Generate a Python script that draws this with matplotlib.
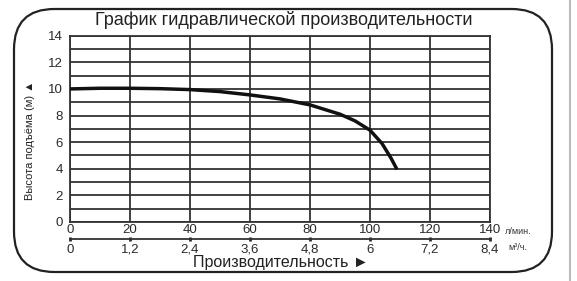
import numpy as np
import matplotlib
matplotlib.use("Agg")
from matplotlib import pyplot as plt
from matplotlib.patches import FancyBboxPatch
from matplotlib.ticker import FixedLocator, FuncFormatter

# производительность, л/мин и напор, м
flow = [0, 10, 20, 30, 40, 50, 60, 70, 80, 90, 95, 100, 104, 107, 109]
head = [10.0, 10.05, 10.05, 10.02, 9.95, 9.8, 9.55, 9.25, 8.8, 8.1, 7.6, 6.9, 5.9, 4.8, 3.95]

x_ticks = [0, 20, 40, 60, 80, 100, 120, 140]
m3h_labels = ["0", "1,2", "2,4", "3,6", "4,8", "6", "7,2", "8,4"]
y_ticks = [0, 2, 4, 6, 8, 10, 12, 14]

title = "График гидравлической производительности"
xlabel = "Производительность ►"
ylabel = "Высота подъёма (м) ▲"

plt.rcParams['font.family'] = ['DejaVu Sans']
fam = ['Liberation Sans', 'DejaVu Sans']

fig = plt.figure(figsize=(5.77, 2.81), dpi=100)
fig.patch.set_facecolor("white")

# frame with rounded corners
W, H = 577.0, 281.0
frame = FancyBboxPatch((14/W, 9/H), (552-14)/W, (272-9)/H,
                       boxstyle="round,pad=0,rounding_size=0.07",
                       transform=fig.transFigure, fill=False,
                       edgecolor="#222222", linewidth=1.6,
                       mutation_aspect=W/H)
fig.patches.append(frame)
fig.add_artist(plt.Line2D([570/W, 570/W], [0, 1], transform=fig.transFigure,
                          color="#bbbbbb", lw=1.5))

ax = fig.add_axes([70/W, 1 - 222/H, 420/W, (222 - 35.7)/H])
ax.set_xlim(0, 140)
ax.set_ylim(0, 14)

for v in range(0, 15):
    ax.axhline(v, color="#333333", lw=1.3, zorder=1)
for v in x_ticks:
    ax.axvline(v, color="#333333", lw=1.3, zorder=1)
for s in ax.spines.values():
    s.set_color("#333333")
    s.set_linewidth(1.3)

ax.plot(flow, head, color="#111111", lw=2.5, zorder=3, solid_capstyle="butt")

ax.set_yticks(y_ticks)
ax.set_xticks(x_ticks)
ax.tick_params(length=0, labelsize=9.5, colors="#2a2a2a", pad=5)
for t in ax.get_xticklabels() + ax.get_yticklabels():
    t.set_family(fam)
ax.tick_params(axis="x", pad=1.5)

sec = ax.secondary_xaxis(-0.093, functions=(lambda x: x * 0.06, lambda x: x / 0.06))
sec.xaxis.set_major_locator(FixedLocator([v * 0.06 for v in x_ticks]))
sec.xaxis.set_major_formatter(FuncFormatter(lambda v, p: m3h_labels[int(round(v / 1.2))]))
sec.spines["bottom"].set_color("#333333")
sec.spines["bottom"].set_linewidth(1.3)
sec.tick_params(length=2.5, width=2, direction="inout", colors="#2a2a2a", labelsize=9.5, pad=2)
for t in sec.get_xticklabels():
    t.set_family(fam)

fig.text(505/W, 1 - 232/H, "л/мин.", fontsize=6.5, family=fam, color="#333333", va="center")
fig.text(508/W, 1 - 247/H, "м³/ч.", fontsize=6.5, family=fam, color="#333333", va="center")

fig.text(284/W, 1 - 20/H, title, fontsize=13, family=fam, color="#222222", ha="center", va="center")
fig.text(281/W, 1 - 263/H, xlabel, fontsize=11.5, family=fam, color="#222222", ha="center", va="center")
fig.text(30/W, 1 - 140/H, ylabel, fontsize=8, family=fam, color="#222222", ha="center", va="center", rotation=90)

fig.savefig("out.png", dpi=100, facecolor="white")
